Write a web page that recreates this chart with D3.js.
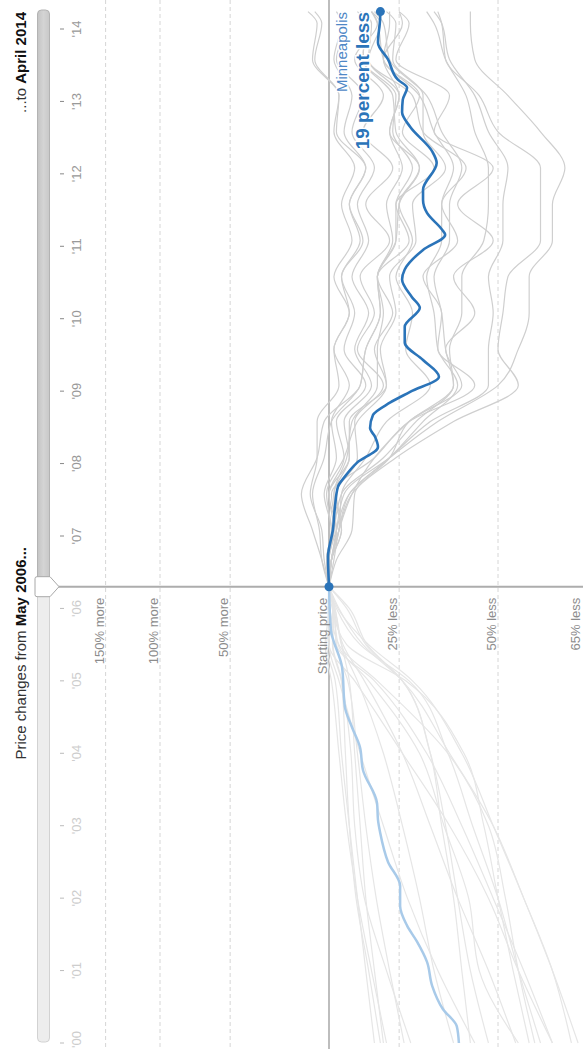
<!DOCTYPE html>
<html><head><meta charset="utf-8">
<script src="https://cdn.jsdelivr.net/npm/d3@7"></script>
<style>html,body{margin:0;padding:0;background:#fff;overflow:hidden}svg{display:block;font-family:"Liberation Sans",Arial,sans-serif}</style>
</head><body><svg id="c" width="583" height="1049"></svg>
<script>
// ---------- DATA ----------
const startDate = 2006.3;   // May 2006
const endDate = 2014.24;    // April 2014
const tickYears = [2000,2001,2002,2003,2004,2005,2006,2007,2008,2009,2010,2011,2012,2013,2014];
const tickLabels = ["'00","'01","'02","'03","'04","'05","'06","'07","'08","'09","'10","'11","'12","'13","'14"];
const gridRatios = [2.5, 2, 1.5, 1, 0.75, 0.5, 0.35];
const gridLabels = ["150% more","100% more","50% more","Starting price","25% less","50% less","65% less"];

const cities = ["Atlanta","Boston","Charlotte","Chicago","Cleveland","Dallas","Denver","Detroit","Las Vegas","Los Angeles","Miami","New York","Phoenix","Portland","San Diego","San Francisco","Seattle","Tampa","Washington"];

// percent change vs. May 2006, before the start
const preDates = [2000.0, 2001.0, 2002.0, 2003.0, 2004.0, 2005.0, 2005.5, 2006.0, startDate];
const prePct = [
  [-26.5, -22, -17.6, -14, -11, -7.4, -2.9, -2.2, 0],
  [-45, -36, -27.5, -20, -12, -4, 0, -1.6, 0],
  [-20, -17, -14, -12, -10, -8, -5, -2.4, 0],
  [-40, -35, -31, -26, -20, -11, -5, -2.4, 0],
  [-17, -14, -11, -8, -5, -2.5, 1, -1.7, 0],
  [-19, -15, -10.5, -8, -6.5, -5, -1.6, -1.6, 0],
  [-28.5, -21, -13.5, -10, -8.6, -5, -1.4, -2, 0],
  [-21, -16, -11, -7, -4, -1, 1.6, 0, 0],
  [-57, -54, -51.5, -48, -38.6, -18, -4, -0.4, 0],
  [-63, -60, -55, -49, -39, -26, -13, -4, 0],
  [-64, -60, -55, -49, -42, -29, -15, -3.6, 0],
  [-53.5, -48, -41, -34, -26, -13.5, -5.6, -1.9, 0],
  [-56, -53, -50, -47, -42.5, -27, -7, -1.3, 0],
  [-44, -42, -40, -37, -34, -26, -14, -7, 0],
  [-60, -54, -48, -39, -26, -10, 0, 0.4, 0],
  [-54, -46, -43.6, -37.6, -31, -15, -3.7, -1.8, 0],
  [-48, -44, -41, -38, -34, -26, -14.5, -8, 0],
  [-58, -54, -50, -44.5, -38.6, -28, -12, -3, 0],
  [-60, -55, -49, -42, -33, -17, -3, -2, 0]
];

// percent change vs. May 2006, after the start
const postDates = [startDate, 2006.67, 2007.08, 2007.58, 2008.08, 2008.58, 2009.08, 2009.58, 2010.08, 2010.58, 2011.08, 2011.58, 2012.08, 2012.58, 2013.08, 2013.58, 2014.08, endDate];
const postPct = [
  [0, 1, -1, 1, -6, -11, -21, -19, -24, -22, -30, -29, -38, -32, -32, -23, -24, -21],
  [0, -1, -5, -2, -8, -6, -16, -10, -15, -9, -15, -11, -17, -9, -13, -3, -7, -5],
  [0, 2, 3, 8, 5, 5, -4, -2, -8, -5, -12, -8, -14, -6, -9, -2, -5, -3],
  [0, 1, -2, 0, -8, -8, -21, -17, -23, -18, -28, -24, -35, -26, -31, -20, -26, -25],
  [0, -1, -5, -3, -11, -10, -20, -11, -17, -12, -22, -14, -23, -13, -20, -10, -18, -16],
  [0, 1, -1, 2, -3, -1, -8, -2, -8, -2, -9, -5, -10, -2, -4, 6, 3, 6],
  [0, -1, -3, 0, -6, -3, -14, -6, -10, -5, -13, -8, -14, -3, -4, 7, 5, 9],
  [0, -3, -9, -10, -22, -28, -42, -38, -45, -40, -49, -41, -49, -35, -39, -24, -28, -25],
  [0, -1, -3, -6, -22, -36, -50, -54, -56, -56, -60, -60, -62, -58, -52, -45, -44, -44],
  [0, 0, -2, -5, -20, -30, -40, -38, -37, -35, -39, -39, -42, -37, -33, -22, -20, -17],
  [0, 0, -3, -8, -22, -34, -48, -48, -49, -48, -51, -51, -52, -48, -45, -39, -37, -35],
  [0, 0, -2, -2, -7, -9, -18, -18, -20, -18, -23, -21, -26, -22, -25, -20, -22, -22],
  [0, -1, -4, -9, -24, -40, -54, -50, -51, -52, -58, -58, -58, -50, -46, -38, -37, -36],
  [0, 3, 4, 7, 2, -1, -12, -14, -19, -18, -24, -24, -29, -23, -24, -13, -14, -11],
  [0, -2, -4, -8, -22, -32, -41, -36, -35, -33, -37, -37, -40, -35, -31, -20, -18, -16],
  [0, -1, -3, -1, -17, -28, -45, -36, -37, -32, -41, -37, -43, -32, -29, -15, -16, -12],
  [0, 3, 7, 12, 5, 2, -12, -14, -19, -18, -24, -25, -31, -24, -23, -13, -14, -12],
  [0, -1, -4, -9, -17, -28, -40, -39, -42, -42, -47, -48, -48, -45, -43, -38, -35, -33],
  [0, -1, -4, -5, -14, -21, -34, -27, -29, -24, -29, -25, -31, -22, -25, -15, -19, -16]
];

// Minneapolis (highlighted)
const minnPreDates = [2000.0, 2000.23, 2000.47, 2000.79, 2001.12, 2001.40, 2001.62, 2001.89, 2002.17, 2002.50, 2002.91, 2003.08, 2003.31, 2003.77, 2004.09, 2004.36, 2004.64, 2005.19, 2005.70, startDate];
const minnPrePct = [-41.3, -40.8, -37.3, -34.5, -33.1, -30.3, -27.4, -25.3, -25.3, -21.5, -18.9, -18.2, -17.9, -13.0, -11.9, -9.0, -6.3, -5.2, -0.8, 0];
const minnPostDates = [startDate, 2006.71, 2007.09, 2007.40, 2007.68, 2007.82, 2008.01, 2008.23, 2008.37, 2008.49, 2008.67, 2008.84, 2008.99, 2009.20, 2009.43, 2009.67, 2009.89, 2010.15, 2010.30, 2010.54, 2010.68, 2010.95, 2011.16, 2011.23, 2011.46, 2011.64, 2011.78, 2012.15, 2012.31, 2012.65, 2012.85, 2013.02, 2013.19, 2013.30, 2013.58, 2013.81, 2014.13, endDate];
const minnPostPct = [0, 0.4, -1.6, -2.4, -3.6, -6.3, -10.8, -18.2, -17.2, -15.5, -16.5, -22.1, -28.3, -36.3, -32.0, -26.7, -26.7, -31.1, -28.8, -25.9, -26.7, -32.0, -37.9, -37.1, -33.1, -32.0, -32.0, -35.7, -34.5, -28.3, -25.9, -26.1, -27.4, -24.6, -21.5, -18.2, -18.9, -19.0];

// ---------- CHART ----------
const svg = d3.select("#c");
const yT = d3.scaleLinear().domain([2000, 2014]).range([1043, 29]);
const xV = d3.scaleLog().domain([1, 0.5]).range([329, 498]);
const ratio = p => 1 + p / 100;
const x0 = xV(1), yStart = yT(startDate);

function vtext(x, y, anchor) {
  return svg.append("text").attr("transform", `translate(${x},${y}) rotate(-90)`).attr("text-anchor", anchor);
}

// grid lines
gridRatios.forEach((g, i) => {
  const gx = xV(g);
  if (g === 1) return;
  svg.append("line").attr("x1", gx).attr("x2", gx).attr("y1", 0).attr("y2", 1049)
    .attr("stroke", "#d6d6d6").attr("stroke-width", 1).attr("stroke-dasharray", "4,3");
});
// starting price line
svg.append("line").attr("x1", x0).attr("x2", x0).attr("y1", 0).attr("y2", 1049)
  .attr("stroke", "#9a9a9a").attr("stroke-width", 1.3);

const lineGen = d3.line().x(d => xV(ratio(d[1]))).y(d => yT(d[0])).curve(d3.curveMonotoneY);

// pre-start gray lines
const gPre = svg.append("g");
prePct.forEach(vals => {
  gPre.append("path").attr("d", lineGen(preDates.map((t, i) => [t, vals[i]])))
    .attr("fill", "none").attr("stroke", "#e6e6e6").attr("stroke-width", 1.2);
});
// post-start gray lines
const gPost = svg.append("g");
postPct.forEach(vals => {
  gPost.append("path").attr("d", lineGen(postDates.map((t, i) => [t, vals[i]])))
    .attr("fill", "none").attr("stroke", "#cfcfcf").attr("stroke-width", 1.2);
});

// Minneapolis
const minnLine = d3.line().x(d => xV(ratio(d[1]))).y(d => yT(d[0])).curve(d3.curveMonotoneY);
svg.append("path").attr("d", minnLine(minnPreDates.map((t, i) => [t, minnPrePct[i]])))
  .attr("fill", "none").attr("stroke", "#a8cae9").attr("stroke-width", 2.5);
svg.append("path").attr("d", minnLine(minnPostDates.map((t, i) => [t, minnPostPct[i]])))
  .attr("fill", "none").attr("stroke", "#2b74b9").attr("stroke-width", 2.6).attr("stroke-linejoin", "round");

// horizontal start line
svg.append("line").attr("x1", 50).attr("x2", 583).attr("y1", yStart).attr("y2", yStart)
  .attr("stroke", "#adadad").attr("stroke-width", 2);

// grid labels
gridRatios.forEach((g, i) => {
  const bx = Math.min(xV(g) - 2, 580);
  vtext(bx, yStart + 11, "end").text(gridLabels[i])
    .attr("font-size", 13).attr("fill", "#8c8c8c");
});

// dots
svg.append("circle").attr("cx", x0).attr("cy", yStart).attr("r", 4.5).attr("fill", "#2b74b9");
const lastPct = minnPostPct[minnPostPct.length - 1];
const endX = xV(ratio(lastPct)), endY = yT(endDate);
svg.append("circle").attr("cx", endX).attr("cy", endY).attr("r", 4.5).attr("fill", "#2b74b9");

// Minneapolis labels
vtext(347, 12, "end").text("Minneapolis").attr("font-size", 15).attr("fill", "#4f88c6")
  .attr("stroke", "#fff").attr("stroke-width", 3).attr("paint-order", "stroke");
vtext(369, 12, "end").text(Math.round(-lastPct) + " percent less").attr("font-size", 19)
  .attr("font-weight", "bold").attr("fill", "#2b74b9")
  .attr("stroke", "#fff").attr("stroke-width", 3).attr("paint-order", "stroke");

// time ticks
tickYears.forEach((yr, i) => {
  const ty = yT(yr);
  const after = yr > startDate;
  svg.append("line").attr("x1", 60).attr("x2", 64).attr("y1", ty).attr("y2", ty)
    .attr("stroke", after ? "#888" : "#bbb").attr("stroke-width", 1);
  const edge = ty > 1035;
  vtext(81, edge ? 1048 : ty, edge ? "start" : "middle").text(tickLabels[i]).attr("font-size", 13)
    .attr("fill", after ? "#999" : "#cdcdcd");
});

// slider
const defs = svg.append("defs");
const grad = defs.append("linearGradient").attr("id", "sl").attr("x1", "0").attr("x2", "1");
grad.append("stop").attr("offset", "0").attr("stop-color", "#c4c4c4");
grad.append("stop").attr("offset", "0.5").attr("stop-color", "#d4d4d4");
grad.append("stop").attr("offset", "1").attr("stop-color", "#c8c8c8");
svg.append("rect").attr("x", 37.5).attr("y", yStart - 2).attr("width", 12).attr("height", 1042 - yStart + 2)
  .attr("rx", 4).attr("fill", "#ededed").attr("stroke", "#d2d2d2");
svg.append("rect").attr("x", 37.5).attr("y", 10).attr("width", 12).attr("height", yStart - 8)
  .attr("rx", 4).attr("fill", "url(#sl)").attr("stroke", "#b3b3b3");
svg.append("path")
  .attr("d", `M37,${yStart-10} L50,${yStart-10} L59,${yStart} L50,${yStart+10} L37,${yStart+10} Q35,${yStart+10} 35,${yStart+8} L35,${yStart-8} Q35,${yStart-10} 37,${yStart-10} Z`)
  .attr("fill", "#fff").attr("stroke", "#a8a8a8").attr("stroke-width", 1);

// titles
const t1 = vtext(26, 547, "end").attr("font-size", 15).attr("fill", "#333");
t1.append("tspan").text("Price changes from ");
t1.append("tspan").text("May 2006...").attr("font-weight", "bold").attr("fill", "#111");
const t2 = vtext(26, 12, "end").attr("font-size", 15).attr("fill", "#333");
t2.append("tspan").text("...to ");
t2.append("tspan").text("April 2014").attr("font-weight", "bold").attr("fill", "#111");
</script></body></html>
